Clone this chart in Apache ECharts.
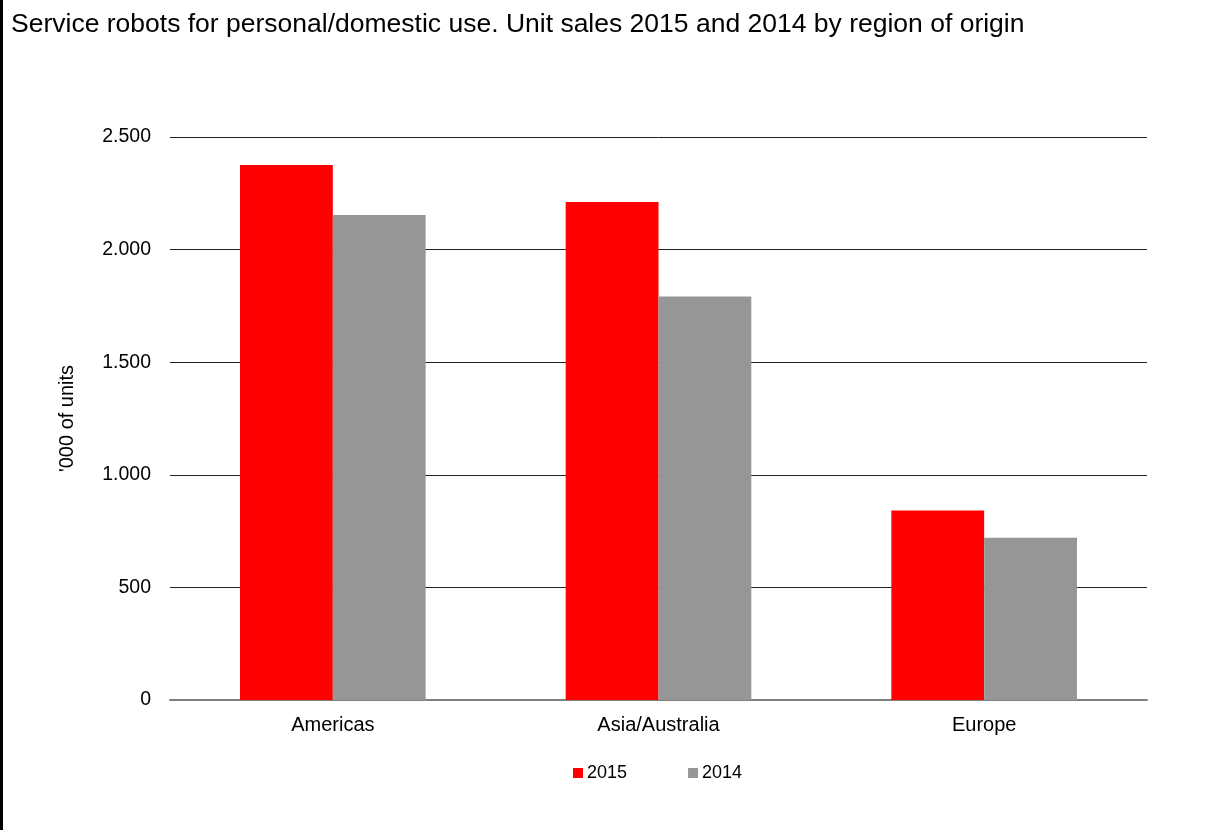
<!DOCTYPE html>
<html>
<head>
<meta charset="utf-8">
<script src="https://cdn.jsdelivr.net/npm/echarts@6/dist/echarts.min.js"></script>
<style>
  html, body { margin: 0; padding: 0; background: #fff; }
  #chart { width: 1221px; height: 830px; }
</style>
</head>
<body>
<div id="chart"></div>
<script>
// Unit sales ('000) of personal/domestic service robots by region of origin
const regions = ['Americas', 'Asia/Australia', 'Europe'];
const sales2015 = [2376, 2211, 842];
const sales2014 = [2154, 1792, 721];
const yTicks = [0, 500, 1000, 1500, 2000, 2500];

const fmt = v => String(v).replace(/\B(?=(\d{3})+(?!\d))/g, '.');

const chart = echarts.init(document.getElementById('chart'));
chart.setOption({
  animation: false,
  backgroundColor: '#fff',
  textStyle: { fontFamily: 'Liberation Sans, Arial, sans-serif' },
  graphic: [{
    type: 'rect',
    left: 0, top: 0,
    shape: { width: 3, height: 830 },
    style: { fill: '#000' }
  }],
  title: {
    text: 'Service robots for personal/domestic use. Unit sales 2015 and 2014 by region of origin',
    left: 6, top: 6,
    textStyle: { fontSize: 26.5, fontWeight: 'normal', color: '#000', fontFamily: 'Liberation Sans, Arial, sans-serif' }
  },
  legend: {
    top: 759, left: 568,
    itemWidth: 10, itemHeight: 10, itemGap: 61,
    icon: 'rect',
    textStyle: { fontSize: 18, color: '#000', padding: [0, 0, 0, -1] },
    data: ['2015', '2014']
  },
  grid: { left: 170, right: 74, top: 137, bottom: 130 },
  xAxis: {
    type: 'category',
    data: regions,
    axisLine: { lineStyle: { color: '#808080', width: 2 } },
    axisTick: { show: false },
    axisLabel: { fontSize: 20, color: '#000', margin: 15 }
  },
  yAxis: {
    type: 'value',
    min: yTicks[0], max: yTicks[yTicks.length - 1], interval: 500,
    name: "'000 of units",
    nameLocation: 'middle',
    nameGap: 93,
    nameTextStyle: { fontSize: 20, color: '#000' },
    axisLine: { show: false },
    axisTick: { show: false },
    axisLabel: { fontSize: 19.5, color: '#000', margin: 19, formatter: fmt },
    splitLine: { lineStyle: { color: '#222', width: 1 } }
  },
  series: [
    { name: '2015', type: 'bar', data: sales2015, barGap: '0%', barCategoryGap: '43%',
      itemStyle: { color: '#ff0000' } },
    { name: '2014', type: 'bar', data: sales2014,
      itemStyle: { color: '#969696' } }
  ]
});
</script>
</body>
</html>
